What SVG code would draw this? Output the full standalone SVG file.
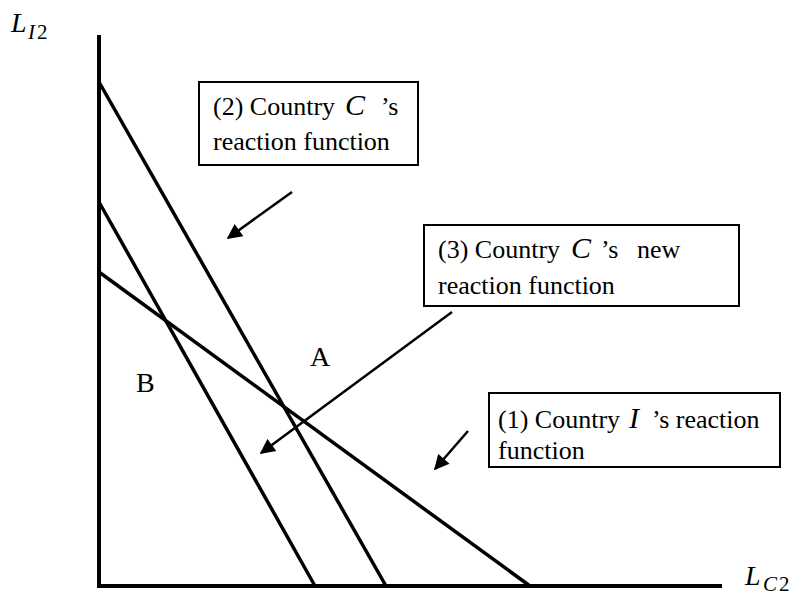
<svg xmlns="http://www.w3.org/2000/svg" width="807" height="595" viewBox="0 0 807 595">
<style>
text{font-family:"Liberation Serif","Times New Roman",serif;fill:#000;font-size:26px}
.v{font-style:italic;font-size:30px}
.box{fill:#fff;stroke:#000;stroke-width:2}
.ax{stroke:#000;stroke-width:4;fill:none}
.ln{stroke:#000;stroke-width:3.5;fill:none}
.ar{stroke:#000;stroke-width:2.5;fill:none}
.lb{font-size:28px}
.it{font-style:italic;font-size:28px}
.sub{font-size:21px}
</style>
<defs>
<marker id="ah" viewBox="0 0 10 10" refX="9" refY="5" markerWidth="6.5" markerHeight="6" markerUnits="strokeWidth" orient="auto">
<path d="M0,0 L10,5 L0,10 z" fill="#000"/>
</marker>
</defs>
<g id="axes">
<polyline class="ax" points="99,35 99,586 722,586"/>
<text class="it" x="11" y="32">L</text>
<text class="sub" x="28" y="39" font-style="italic">I</text>
<text class="sub" x="37" y="39">2</text>
<text class="it" x="745" y="585">L</text>
<text class="sub" x="763" y="591" font-style="italic">C</text>
<text class="sub" x="779" y="591">2</text>
</g>
<g id="curves">
<line class="ln" x1="99" y1="82" x2="386" y2="586"/>
<line class="ln" x1="99" y1="202" x2="315" y2="586"/>
<line class="ln" x1="99" y1="272" x2="530" y2="586"/>
</g>
<g id="labelA"><text class="lb" x="310" y="366">A</text></g>
<g id="labelB"><text class="lb" x="136" y="392">B</text></g>
<g id="box2">
<rect class="box" x="199" y="82" width="219" height="83"/>
<text x="213" y="115">(2) Country</text>
<text class="v" x="345" y="115">C</text>
<text x="381" y="115">’s</text>
<text x="213" y="150">reaction function</text>
</g>
<g id="box3">
<rect class="box" x="424" y="225" width="315" height="81"/>
<text x="438" y="258">(3) Country</text>
<text class="v" x="571" y="258">C</text>
<text x="601" y="258">’s</text>
<text x="637" y="258">new</text>
<text x="438" y="294">reaction function</text>
</g>
<g id="box1">
<rect class="box" x="489" y="393" width="291" height="74"/>
<text x="498" y="428">(1) Country</text>
<text class="v" x="629" y="428">I</text>
<text x="652" y="428">’s reaction</text>
<text x="498" y="459">function</text>
</g>
<g id="connectors">
<line class="ar" x1="292" y1="192" x2="228" y2="238" marker-end="url(#ah)"/>
<line class="ar" x1="452" y1="312" x2="261" y2="453" marker-end="url(#ah)"/>
<line class="ar" x1="468" y1="431" x2="435" y2="469" marker-end="url(#ah)"/>
</g>
</svg>
